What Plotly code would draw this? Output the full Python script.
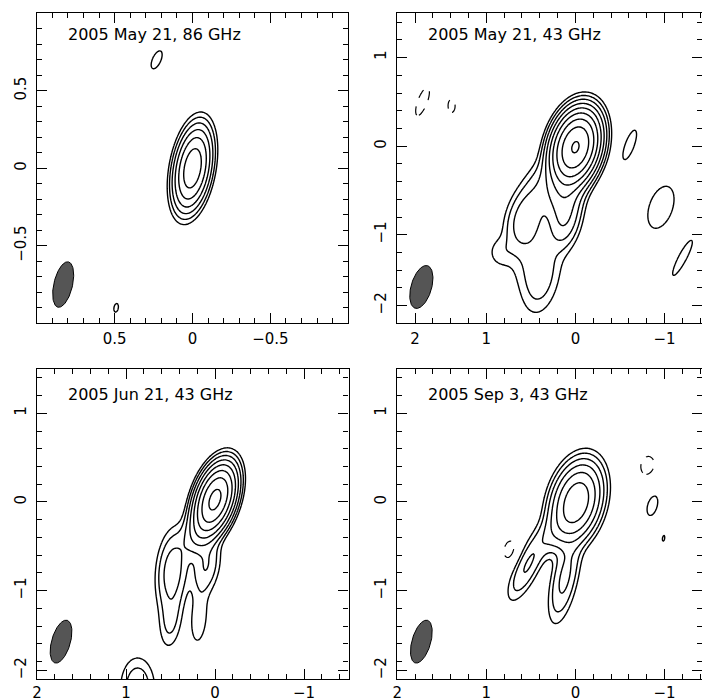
import numpy as np
import plotly.graph_objects as go

W, H = 702, 698

# ---------------- data: Gaussian source components (mas, relative flux) -------------
TITLES = ["2005 May 21, 86 GHz", "2005 May 21, 43 GHz", "2005 Jun 21, 43 GHz", "2005 Sep 3, 43 GHz"]

# number of positive contour levels (lowest level = 1, doubling)
N_LEVELS = [6, 9, 8, 6]

P1_X = [0.0, 0.23, 0.49]
P1_Y = [0.0, 0.70, -0.90]
P1_FLUX = [51.6, 1.5, 1.05]
P1_SMAJ = [0.131, 0.069, 0.09]
P1_SMIN = [0.054, 0.030, 0.045]
P1_PA = [-10, -24, -10]

P2_X = [0.0, 0.12, 0.56, 0.12, 0.40, 0.85, 0.40, 0.45, -0.61, -0.96, -1.20, 1.72, 1.39]
P2_Y = [-0.01, -0.45, -0.85, -0.80, -1.55, -1.20, -0.45, -1.25, 0.015, -0.69, -1.27, 0.50, 0.455]
P2_FLUX = [270, 12, 6, 8, 2.2, 1.3, 3.0, 2.0, 1.25, 1.3, 1.15, -1.2, -1.08]
P2_SMAJ = [0.19, 0.20, 0.20, 0.20, 0.25, 0.12, 0.25, 0.25, 0.26, 0.34, 0.38, 0.27, 0.19]
P2_SMIN = [0.115, 0.12, 0.12, 0.10, 0.13, 0.10, 0.12, 0.18, 0.075, 0.18, 0.075, 0.085, 0.10]
P2_PA = [-15, -20, -15, -10, -10, 0, -30, -10, -20, -19, -28, -20, 0]

P3_X = [0.0, 0.15, 0.48, 0.10, 0.50, 0.18, 0.87]
P3_Y = [0.03, -0.30, -0.78, -0.72, -1.34, -1.32, -2.10]
P3_FLUX = [154, 9, 6.0, 4.0, 2.3, 1.8, 3.5]
P3_SMAJ = [0.19, 0.18, 0.26, 0.20, 0.21, 0.22, 0.215]
P3_SMIN = [0.095, 0.10, 0.10, 0.09, 0.08, 0.07, 0.12]
P3_PA = [-18, -25, -5, -10, -5, -5, 0]

P4_X = [-0.01, 0.20, 0.54, 0.12, -0.865, -0.99, 0.74, -0.81]
P4_Y = [0.0, -0.30, -0.72, -0.85, -0.035, -0.41, -0.54, 0.41]
P4_FLUX = [53, 4.0, 4.2, 4.8, 1.3, 1.05, -1.25, -1.25]
P4_SMAJ = [0.22, 0.20, 0.25, 0.30, 0.166, 0.10, 0.15, 0.157]
P4_SMIN = [0.128, 0.10, 0.08, 0.085, 0.076, 0.04, 0.09, 0.112]
P4_PA = [-15, -35, -25, -12, -15, -10, -10, -10]

# restoring beams (FWHM, mas; PA deg) and their positions
BEAM_X = [0.83, 1.73, 1.73, 1.73]
BEAM_Y = [-0.75, -1.59, -1.575, -1.575]
BEAM_MAJ = [0.30, 0.50, 0.50, 0.50]
BEAM_MIN = [0.12, 0.23, 0.21, 0.21]
BEAM_PA = [-13, -16, -16, -16]

# axis ranges (x reversed: relative RA)
X_RANGES = [[1.0, -1.0], [2.0, -1.421], [2.0, -1.5], [2.0, -1.421]]
Y_RANGES = [[-1.0, 1.0], [-2.0, 1.5], [-2.0, 1.5], [-2.0, 1.5]]

X_TICKVALS = [[0.5, 0, -0.5], [1.8, 1, 0, -1], [2, 1, 0, -1], [2, 1, 0, -1]]
X_TICKTEXT = [["0.5", "0", "\u22120.5"], ["2", "1", "0", "\u22121"], ["2", "1", "0", "\u22121"], ["2", "1", "0", "\u22121"]]
Y_TICKVALS = [[0.5, 0, -0.5], [1, 0, -1, -1.8], [1, 0, -1, -1.9], [1, 0, -1, -1.9]]
Y_TICKTEXT = [["0.5", "0", "\u22120.5"], ["1", "0", "\u22121", "\u22122"], ["1", "0", "\u22121", "\u22122"], ["1", "0", "\u22121", "\u22122"]]
MINOR_DTICK = [0.1, 0.2, 0.2, 0.2]
X_STANDOFF = [2, 2, 0, 0]

# panel frames in pixels (left, right, top, bottom)
FRAMES = [(36.7, 348.3, 13.3, 323.3), (397.3, 702.0, 13.3, 323.3),
          (37.0, 348.6, 369.0, 679.3), (397.3, 702.0, 369.0, 679.3)]
TITLE_PX = [(66, 34), (426, 34), (66, 394), (426, 394)]

COMPONENTS = [
    (P1_X, P1_Y, P1_FLUX, P1_SMAJ, P1_SMIN, P1_PA),
    (P2_X, P2_Y, P2_FLUX, P2_SMAJ, P2_SMIN, P2_PA),
    (P3_X, P3_Y, P3_FLUX, P3_SMAJ, P3_SMIN, P3_PA),
    (P4_X, P4_Y, P4_FLUX, P4_SMAJ, P4_SMIN, P4_PA),
]


def model_image(xg, yg, comps):
    X, Y = np.meshgrid(xg, yg)
    Z = np.zeros_like(X)
    for x0, y0, f, sa, sb, pa in zip(*comps):
        th = np.radians(pa)
        dx, dy = X - x0, Y - y0
        u = dx * np.sin(th) + dy * np.cos(th)
        v = dx * np.cos(th) - dy * np.sin(th)
        Z += f * np.exp(-0.5 * ((u / sa) ** 2 + (v / sb) ** 2))
    return Z


fig = go.Figure()
axis_font = dict(family="DejaVu Sans", size=15, color="black")

for i in range(4):
    n = i + 1
    xa = "x" if n == 1 else f"x{n}"
    ya = "y" if n == 1 else f"y{n}"
    xr, yr = X_RANGES[i], Y_RANGES[i]
    xg = np.linspace(min(xr) - 0.05, max(xr) + 0.05, 351)
    yg = np.linspace(min(yr) - 0.05, max(yr) + 0.05, 353)
    Z = model_image(xg, yg, COMPONENTS[i])
    zpos = np.log2(np.clip(Z, 1e-3, None))
    zneg = np.log2(np.clip(-Z, 1e-3, None))
    for k in range(N_LEVELS[i]):
        fig.add_trace(go.Contour(
            x=xg, y=yg, z=zpos, xaxis=xa, yaxis=ya,
            contours=dict(start=k, end=k + 0.5, size=1, coloring="none"),
            line=dict(color="black", width=1.4, smoothing=1),
            showscale=False, hoverinfo="skip"))
    fig.add_trace(go.Contour(
        x=xg, y=yg, z=zneg, xaxis=xa, yaxis=ya,
        contours=dict(start=0, end=0.5, size=1, coloring="none"),
        line=dict(color="black", width=1.2, dash="dash", smoothing=1),
        showscale=False, hoverinfo="skip"))
    # beam ellipse
    t = np.linspace(0, 2 * np.pi, 120)
    a, b = BEAM_MAJ[i] / 2, BEAM_MIN[i] / 2
    th = np.radians(BEAM_PA[i])
    u, v = a * np.cos(t), b * np.sin(t)
    bx = BEAM_X[i] + u * np.sin(th) + v * np.cos(th)
    by = BEAM_Y[i] + u * np.cos(th) - v * np.sin(th)
    fig.add_trace(go.Scatter(x=bx, y=by, xaxis=xa, yaxis=ya, mode="lines",
                             fill="toself", fillcolor="#555555",
                             line=dict(color="black", width=1), hoverinfo="skip",
                             showlegend=False))

    l, r, tp, bt = FRAMES[i]
    common = dict(showgrid=False, zeroline=False, showline=True, linecolor="black",
                  linewidth=1.3, mirror="ticks", ticks="inside", ticklen=10,
                  tickwidth=1.2, tickcolor="black", tickfont=axis_font,
                  tickmode="array", automargin=False,
                  minor=dict(ticks="inside", ticklen=5, tickwidth=1.2, tickcolor="black",
                             tickmode="linear", tick0=0, dtick=MINOR_DTICK[i]))
    fig.layout[f"xaxis{'' if n == 1 else n}"] = dict(
        domain=[l / W, r / W], range=xr, anchor=ya, ticklabelstandoff=X_STANDOFF[i],
        tickvals=X_TICKVALS[i], ticktext=X_TICKTEXT[i], **common)
    fig.layout[f"yaxis{'' if n == 1 else n}"] = dict(
        domain=[1 - bt / H, 1 - tp / H], range=yr, anchor=xa, tickangle=-90,
        ticklabelstandoff=4,
        tickvals=Y_TICKVALS[i], ticktext=Y_TICKTEXT[i], **common)
    fig.add_annotation(text=TITLES[i], xref="paper", yref="paper",
                       x=TITLE_PX[i][0] / W, y=1 - TITLE_PX[i][1] / H,
                       xanchor="left", yanchor="middle", showarrow=False,
                       font=dict(family="DejaVu Sans", size=16, color="black"))

fig.update_layout(width=W, height=H, margin=dict(l=0, r=0, t=0, b=0),
                  paper_bgcolor="white", plot_bgcolor="white", showlegend=False)
fig.write_html("out.html")
